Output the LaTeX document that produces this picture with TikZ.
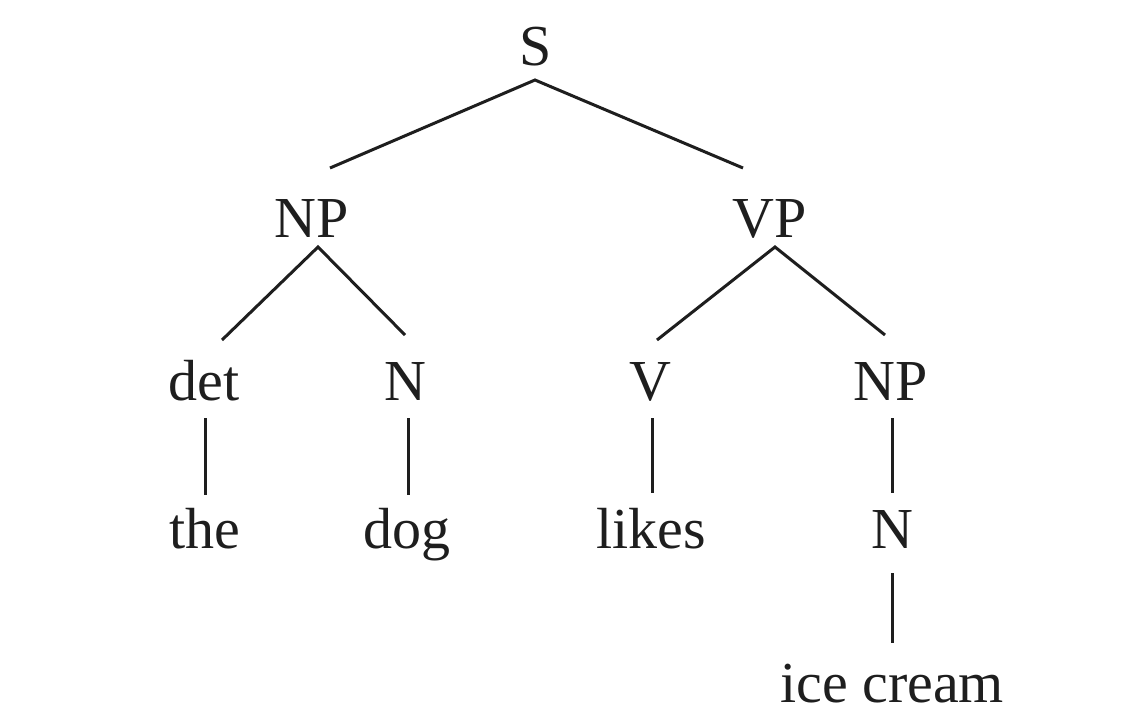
\documentclass[tikz,border=0pt]{standalone}
\usepackage{fontspec}
\setmainfont{Liberation Serif}
\usetikzlibrary{calc}
\definecolor{ink}{HTML}{1E1E1E}

\begin{document}
\begin{tikzpicture}[x=1pt,y=-1pt,
  lbl/.style={anchor=base,inner sep=0pt,text=ink,font=\fontsize{58}{60}\selectfont},
  edge/.style={line width=3pt,ink}]
  \useasboundingbox (0,0) rectangle (1125,725);
  % labels, placed on their baselines
  \node[lbl] (s)    at (536,66)  {S};
  \node[lbl] (np)   at (312,237) {NP};
  \node[lbl] (vp)   at (770,237) {VP};
  \node[lbl] (det)  at (204,400) {det};
  \node[lbl] (n)    at (405,400) {N};
  \node[lbl] (v)    at (650,400) {V};
  \node[lbl] (npb)  at (891,400) {NP};
  \node[lbl] (the)  at (205,548) {the};
  \node[lbl] (dog)  at (407,548) {dog};
  \node[lbl] (likes) at (651,548) {likes};
  \node[lbl] (nb)   at (892,548) {N};
  \node[lbl] (ice)  at (892,702) {ice cream};
  % branches
  \draw[edge] ($(np.base)+(18,-69)$) -- ($(s.base)+(-1,14)$) -- ($(vp.base)+(-27,-69)$);
  \draw[edge] ($(det.base)+(18,-60)$) -- ($(np.base)+(6,10)$) -- ($(n.base)+(0,-65)$);
  \draw[edge] ($(v.base)+(7,-60)$) -- ($(vp.base)+(5,10)$) -- ($(npb.base)+(-6,-65)$);
  \draw[edge] ($(det.base)+(1,18)$) -- ($(the.base)+(0,-53)$);
  \draw[edge] ($(n.base)+(3,18)$) -- ($(dog.base)+(1,-53)$);
  \draw[edge] ($(v.base)+(2,18)$) -- ($(likes.base)+(1,-55)$);
  \draw[edge] ($(npb.base)+(1,18)$) -- ($(nb.base)+(0,-55)$);
  \draw[edge] ($(nb.base)+(0,25)$) -- ($(ice.base)+(0,-59)$);
\end{tikzpicture}
\end{document}
